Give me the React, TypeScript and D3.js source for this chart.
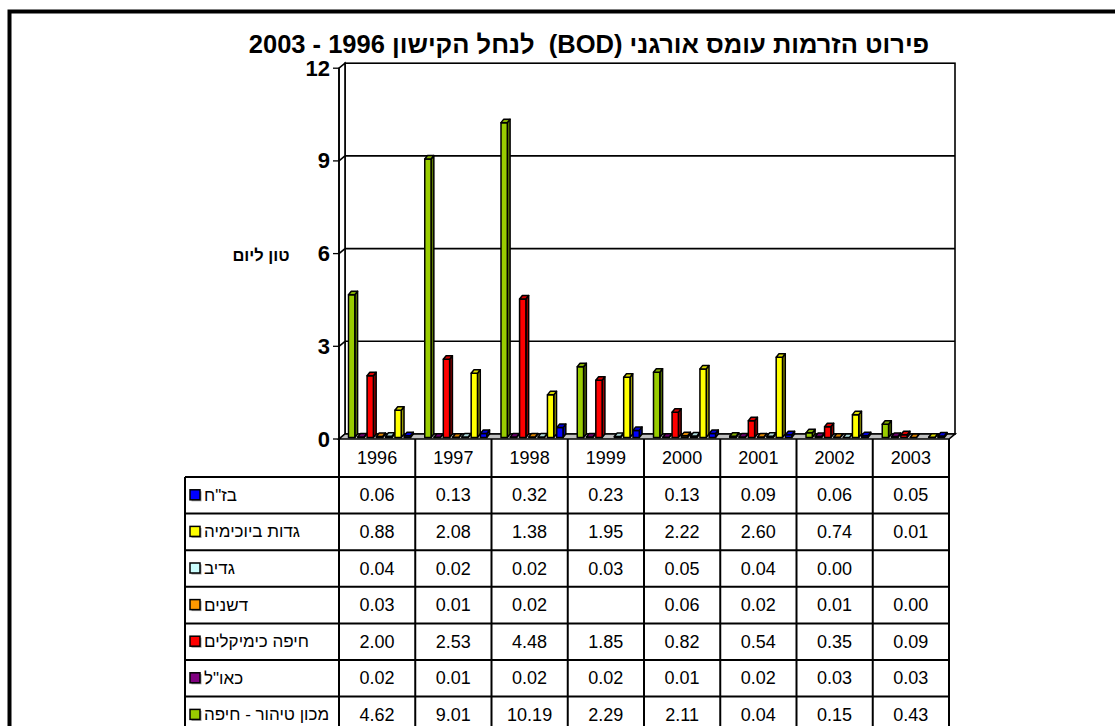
import React from "react";
import * as d3 from "d3";

const years = ["1996", "1997", "1998", "1999", "2000", "2001", "2002", "2003"];
const seriesNames = ["בז\"ח", "גדות ביוכימיה", "גדיב", "דשנים", "חיפה כימיקלים", "כאו\"ל", "מכון טיהור - חיפה"];
const seriesColors = ["#0000FF", "#FFFF00", "#CCFFFF", "#FF9900", "#FF0000", "#800080", "#99CC00"];
// values per series (rows of the table)
const bazan = [0.06, 0.13, 0.32, 0.23, 0.13, 0.09, 0.06, 0.05];
const gadot = [0.88, 2.08, 1.38, 1.95, 2.22, 2.60, 0.74, 0.01];
const gadiv = [0.04, 0.02, 0.02, 0.03, 0.05, 0.04, 0.00, null];
const deshanim = [0.03, 0.01, 0.02, null, 0.06, 0.02, 0.01, 0.00];
const haifaChem = [2.00, 2.53, 4.48, 1.85, 0.82, 0.54, 0.35, 0.09];
const kaol = [0.02, 0.01, 0.02, 0.02, 0.01, 0.02, 0.03, 0.03];
const mechon = [4.62, 9.01, 10.19, 2.29, 2.11, 0.04, 0.15, 0.43];
const seriesValues: (number | null)[][] = [bazan, gadot, gadiv, deshanim, haifaChem, kaol, mechon];
// order of bars inside each year cluster (left to right), by series index
const barOrder = [6, 5, 4, 3, 2, 1, 0];
const yTicks = [0, 3, 6, 9, 12];
const title = "פירוט הזרמות עומס אורגני (BOD)  לנחל הקישון 1996 - 2003";
const yTitle = "טון ליום";

const FONT = "'Liberation Sans', Arial, sans-serif";

function shade(c: string, k: number) {
  const col = d3.rgb(c);
  return d3.rgb(col.r * k, col.g * k, col.b * k).formatHex();
}

export default function App() {
  const W = 1115, H = 726;
  const x0 = 339, x1 = 949;
  const DX = 6, DY = -5;
  const y = d3.scaleLinear().domain([0, 12]).range([439, 68.2]);
  const yb = (v: number) => y(v) + DY;
  const xCat = d3.scaleBand<string>().domain(years).range([x0, x1]).paddingInner(0).paddingOuter(0);
  const cw = xCat.bandwidth();
  const xSer = d3.scaleBand<number>().domain(barOrder).range([9, 74]).paddingInner(0).paddingOuter(0);
  const step = xSer.step();
  const bw = step * 0.68;
  const bdx = step * 0.3, bdy = -3.5; // bar depth
  const offX = 0.5, offY = -1.5; // bar plane offset

  const rowTop = 477;
  const rowH = 36.6;
  const tableLeft = 185;

  const bars: React.ReactNode[] = [];
  years.forEach((yr, i) => {
    barOrder.forEach((si) => {
      const v = seriesValues[si][i];
      if (v === null || v === undefined) return;
      const col = seriesColors[si];
      const bx = (xCat(yr) as number) + (xSer(si) as number) + offX;
      const base = y(0) + offY;
      const top = y(v) + offY;
      const side = `${bx + bw},${base} ${bx + bw + bdx},${base + bdy} ${bx + bw + bdx},${top + bdy} ${bx + bw},${top}`;
      const topP = `${bx},${top} ${bx + bdx},${top + bdy} ${bx + bw + bdx},${top + bdy} ${bx + bw},${top}`;
      bars.push(
        <g key={`${yr}-${si}`} stroke="#000" strokeWidth={1.5} strokeLinejoin="round">
          <polygon points={side} fill={shade(col, 0.6)} />
          <rect x={bx} y={top} width={bw} height={Math.max(0, base - top)} fill={col} />
          <polygon points={topP} fill={shade(col, 0.85)} />
        </g>
      );
    });
  });

  return (
    <svg width={W} height={H} style={{ position: "absolute", left: 0, top: 0, background: "#fff" }} fontFamily={FONT}>
      <rect x={0} y={0} width={W} height={H} fill="#fff" />
      {/* outer frame */}
      <rect x={9.5} y={11.5} width={1300} height={900} fill="none" stroke="#000" strokeWidth={4} />

      {/* title */}
      <text x={589} y={53} textAnchor="middle" fontSize={25.5} fontWeight="bold" direction="rtl" style={{ whiteSpace: "pre", direction: "rtl", unicodeBidi: "embed" }}>
        {title}
      </text>

      {/* walls */}
      <rect x={x0 + DX} y={yb(12)} width={x1 - x0} height={yb(0) - yb(12)} fill="#fff" stroke="#000" strokeWidth={1.6} />
      <polygon points={`${x0},${y(0)} ${x0 + DX},${yb(0)} ${x0 + DX},${yb(12)} ${x0},${y(12)}`} fill="#fff" stroke="#000" strokeWidth={1.6} />
      {yTicks.filter((t) => t > 0 && t < 12).map((t) => (
        <g key={t} stroke="#000" strokeWidth={1.6}>
          <line x1={x0 + DX} x2={x1 + DX} y1={yb(t)} y2={yb(t)} />
          <line x1={x0} x2={x0 + DX} y1={y(t)} y2={yb(t)} />
        </g>
      ))}
      {/* floor */}
      <polygon points={`${x0},${y(0)} ${x1},${y(0)} ${x1 + DX},${yb(0)} ${x0 + DX},${yb(0)}`} fill="#C0C0C0" stroke="#000" strokeWidth={1.6} />

      {/* axis */}
      <line x1={x0} x2={x0} y1={y(12)} y2={y(0)} stroke="#000" strokeWidth={1.6} />
      {yTicks.map((t) => (
        <g key={t}>
          <line x1={x0 - 6} x2={x0} y1={y(t)} y2={y(t)} stroke="#000" strokeWidth={1.3} />
          <text x={x0 - 9} y={y(t)} textAnchor="end" dominantBaseline="central" fontSize={22} fontWeight="bold">{t}</text>
        </g>
      ))}
      <text x={261} y={255} textAnchor="middle" dominantBaseline="central" fontSize={16.5} fontWeight="bold">{yTitle}</text>

      {bars}

      {/* data table */}
      <g stroke="#000" strokeWidth={2}>
        {years.map((yr) => (
          <line key={yr} x1={xCat(yr) as number} x2={xCat(yr) as number} y1={y(0)} y2={rowTop + rowH * seriesNames.length + 10} />
        ))}
        <line x1={x1} x2={x1} y1={y(0)} y2={rowTop + rowH * seriesNames.length + 10} />
        <line x1={tableLeft} x2={tableLeft} y1={rowTop} y2={rowTop + rowH * seriesNames.length + 10} />
        {d3.range(seriesNames.length + 1).map((k) => (
          <line key={k} x1={tableLeft} x2={x1} y1={rowTop + k * rowH} y2={rowTop + k * rowH} />
        ))}
      </g>
      {years.map((yr) => (
        <text key={yr} x={(xCat(yr) as number) + cw / 2} y={458} textAnchor="middle" dominantBaseline="central" fontSize={18}>{yr}</text>
      ))}
      {seriesNames.map((nm, si) => {
        const cy = rowTop + si * rowH + rowH / 2;
        return (
          <g key={nm}>
            <rect x={191.5} y={cy - 4} width={10} height={10} fill="#999" />
            <rect x={190} y={cy - 5.5} width={10} height={10} fill={seriesColors[si]} stroke="#000" strokeWidth={1.5} />
            <text x={204} y={cy} dominantBaseline="central" fontSize={17} style={{ whiteSpace: "pre" }}>{nm}</text>
            {years.map((yr, i) => {
              const v = seriesValues[si][i];
              if (v === null || v === undefined) return null;
              return (
                <text key={yr} x={(xCat(yr) as number) + cw / 2} y={cy} textAnchor="middle" dominantBaseline="central" fontSize={18}>
                  {d3.format(".2f")(v)}
                </text>
              );
            })}
          </g>
        );
      })}
    </svg>
  );
}
